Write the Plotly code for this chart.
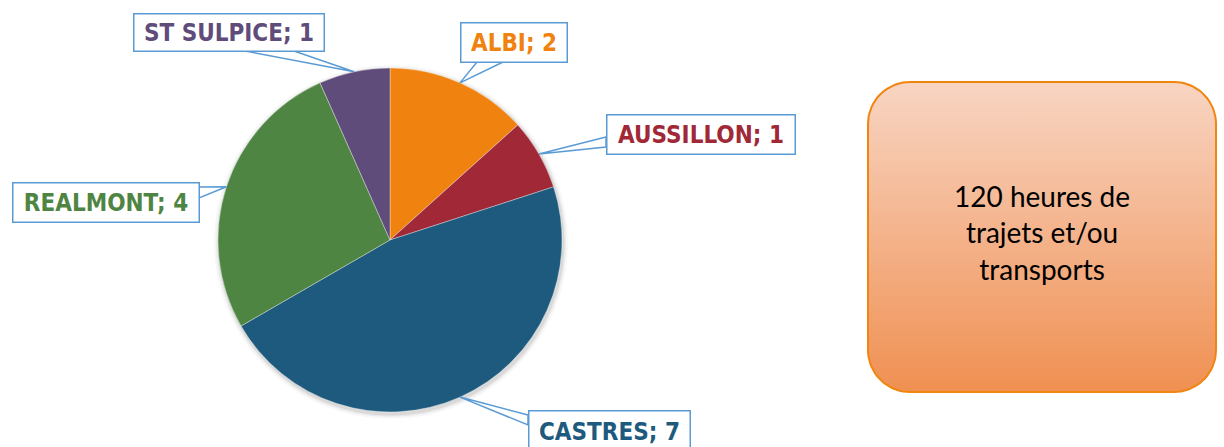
import numpy as np
import plotly.graph_objects as go

W, H = 1224, 447

# ---- data ----
communes = ["ALBI", "AUSSILLON", "CASTRES", "REALMONT", "ST SULPICE"]
valeurs = [2, 1, 7, 4, 1]
couleurs = ["#F0820F", "#A02837", "#1E5A7D", "#4E8542", "#604C7A"]
encadre_texte = "120 heures de<br>trajets et/ou<br>transports"

# ---- layout geometry (pixels) ----
cx, cy, R = 390, 240, 172
label_boxes = {  # x0, y0, x1, y1
    "ST SULPICE": (133, 13, 324, 51),
    "ALBI": (460, 22, 567, 62),
    "AUSSILLON": (606, 114, 795, 154),
    "REALMONT": (12, 182, 199, 222),
    "CASTRES": (528, 410, 690, 452),
}
wedge_base = {
    "ST SULPICE": ((245, 51), (294, 51)),
    "ALBI": ((477, 62), (503, 62)),
    "AUSSILLON": ((606, 137), (606, 147)),
    "REALMONT": ((199, 187), (199, 198)),
    "CASTRES": ((528, 415), (528, 425)),
}

fig = go.Figure()

# rounded gradient box
bx0, by0, bx1, by1, rr = 868, 82, 1216, 392, 42
pts = []
for (ccx, ccy, a0, a1) in [(bx1 - rr, by0 + rr, -90, 0), (bx1 - rr, by1 - rr, 0, 90),
                           (bx0 + rr, by1 - rr, 90, 180), (bx0 + rr, by0 + rr, 180, 270)]:
    for a in np.linspace(a0, a1, 20):
        t = np.radians(a)
        pts.append((ccx + rr * np.cos(t), ccy + rr * np.sin(t)))
pts.append(pts[0])
xs = [p[0] for p in pts]
ys = [H - p[1] for p in pts]
fig.add_trace(go.Scatter(
    x=xs, y=ys, mode="lines", fill="toself",
    line=dict(color="#F0850F", width=2),
    fillgradient=dict(type="vertical",
                      colorscale=[[0, "#F09052"], [1, "#F8D5C3"]]),
    hoverinfo="skip", showlegend=False,
))

# pie
fig.add_trace(go.Pie(
    labels=communes, values=valeurs, sort=False, direction="clockwise", rotation=0,
    marker=dict(colors=couleurs, line=dict(color="rgba(255,255,255,0.5)", width=0.7)),
    textinfo="none", hoverinfo="label+value", showlegend=False,
    domain=dict(x=[(cx - R) / W, (cx + R) / W], y=[1 - (cy + R) / H, 1 - (cy - R) / H]),
))

# soft shadow
for d, op in [(5, 0.03), (3, 0.05), (1.5, 0.07)]:
    fig.add_shape(type="circle", xref="x", yref="y", layer="below",
                  x0=cx - R - d + 1, x1=cx + R + d + 1, y0=H - (cy + R + d + 2), y1=H - (cy - R - d + 2),
                  fillcolor=f"rgba(0,0,0,{op})", line=dict(width=0))

total = sum(valeurs)
cum = 0
for name, v, col in zip(communes, valeurs, couleurs):
    mid = (cum + v / 2) / total
    cum += v
    ang = 2 * np.pi * mid
    tx = cx + R * np.sin(ang)
    ty = cy - R * np.cos(ang)
    (p1x, p1y), (p2x, p2y) = wedge_base[name]
    fig.add_shape(type="path", xref="x", yref="y",
                  path=f"M {p1x},{H - p1y} L {tx:.1f},{H - ty:.1f} L {p2x},{H - p2y} Z",
                  fillcolor="white", line=dict(color="#5B9BD5", width=1.5))
    x0, y0, x1, y1 = label_boxes[name]
    fig.add_annotation(
        x=(x0 + x1) / 2, y=H - (y0 + y1) / 2, xref="x", yref="y",
        text=f"<b>{name}; {v}</b>", showarrow=False,
        width=x1 - x0 - 2, height=y1 - y0 - 2, borderpad=0,
        bgcolor="white", bordercolor="#5B9BD5", borderwidth=1.5,
        font=dict(family="DejaVu Sans Condensed", size=24, color=col),
    )

fig.add_annotation(
    x=(bx0 + bx1) / 2, y=H - 232, xref="x", yref="y", text=encadre_texte,
    showarrow=False, font=dict(family="Lato", size=28, color="black"),
)

fig.update_xaxes(range=[0, W], visible=False, fixedrange=True)
fig.update_yaxes(range=[0, H], visible=False, fixedrange=True)
fig.update_layout(width=W, height=H, margin=dict(l=0, r=0, t=0, b=0),
                  paper_bgcolor="white", plot_bgcolor="white", showlegend=False)
fig.write_html("out.html")
